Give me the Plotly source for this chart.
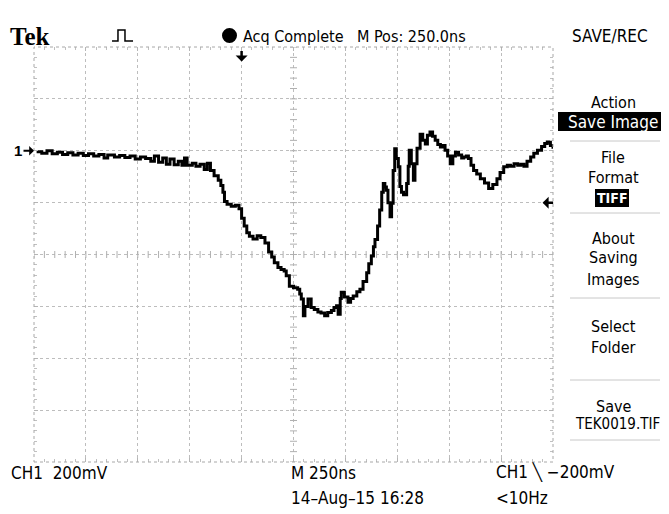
import plotly.graph_objects as go

# ---- waveform data (time in divisions 0..10, amplitude in divisions, center = 0) ----
t_div = [0.05,0.15,0.25,0.35,0.45,0.55,0.65,0.75,0.85,0.95,1.05,1.15,1.25,1.35,1.42,1.55,1.65,1.75,1.85,1.95,
         2.05,2.15,2.25,2.32,2.40,2.48,2.55,2.62,2.70,2.78,2.85,2.90,2.95,3.05,3.12,3.20,3.28,3.34,3.40,3.47,
         3.55,3.60,3.64,3.67,3.72,3.80,3.88,3.95,4.00,4.05,4.10,4.15,4.22,4.30,4.37,4.45,4.52,4.58,4.63,4.70,
         4.76,4.82,4.86,4.92,5.00,5.08,5.12,5.15,5.19,5.22,5.28,5.34,5.40,5.47,5.53,5.60,5.66,5.73,5.78,5.83,
         5.86,5.90,5.92,5.98,6.05,6.10,6.15,6.22,6.28,6.34,6.41,6.45,6.50,6.54,6.57,6.62,6.66,6.70,6.73,6.76,
         6.79,6.82,6.86,6.89,6.92,6.95,6.98,7.02,7.05,7.08,7.12,7.18,7.21,7.23,7.27,7.31,7.34,7.38,7.44,7.49,
         7.54,7.58,7.63,7.68,7.73,7.78,7.83,7.88,7.92,7.97,8.02,8.07,8.12,8.18,8.24,8.28,8.33,8.37,8.42,8.47,
         8.53,8.60,8.68,8.76,8.84,8.92,8.98,9.05,9.12,9.18,9.25,9.32,9.38,9.44,9.50,9.57,9.63,9.70,9.78,9.84,
         9.89,9.95,10.0]
v_div = [1.98,1.95,2.00,1.94,1.97,1.93,1.96,1.92,1.95,1.91,1.94,1.90,1.93,1.86,1.92,1.88,1.91,1.87,1.90,1.84,
         1.88,1.85,1.80,1.90,1.78,1.86,1.74,1.84,1.73,1.80,1.72,1.86,1.72,1.76,1.70,1.74,1.64,1.76,1.62,1.52,
         1.43,1.33,1.20,1.02,0.97,0.93,0.95,0.88,0.70,0.55,0.42,0.35,0.30,0.36,0.33,0.22,0.05,-0.05,-0.16,-0.25,
         -0.29,-0.32,-0.41,-0.61,-0.64,-0.67,-0.76,-0.86,-1.18,-1.00,-0.86,-1.02,-1.06,-1.11,-1.13,-1.18,-1.12,-1.08,-1.02,-0.99,
         -1.15,-0.85,-0.73,-0.82,-0.92,-0.85,-0.80,-0.72,-0.67,-0.52,-0.35,-0.18,-0.03,0.15,0.29,0.55,0.86,1.20,1.37,1.30,
         1.24,1.00,0.73,0.99,1.62,2.04,1.85,1.69,1.31,1.20,1.15,1.37,1.70,2.01,1.75,1.43,1.75,2.05,2.32,2.20,
         2.13,2.30,2.36,2.28,2.20,2.12,2.07,2.10,2.01,1.90,1.75,1.90,1.97,1.92,1.86,1.88,1.90,1.85,1.72,1.62,
         1.55,1.46,1.38,1.27,1.35,1.46,1.58,1.69,1.72,1.70,1.75,1.72,1.74,1.70,1.80,1.88,1.95,2.01,2.08,2.14,
         2.17,2.10,2.04]

ground_level_div = 2.0
trigger_level_div = 1.0
trigger_pos_div = 4.0

header_texts = ["Acq Complete", "M Pos: 250.0ns", "SAVE/REC"]
footer_texts = ["CH1  200mV", "M 250ns", "CH1 \u2572 \u2212200mV", "14\u2013Aug\u201315 16:28", "<10Hz"]
menu_texts = ["Action", "Save Image", "File", "Format", "TIFF", "About", "Saving", "Images",
              "Select", "Folder", "Save", "TEK0019.TIF"]

OFF = 8                      # page body margin
W, H = 669 - OFF, 514 - OFF  # figure size
L, R, T, B = 34, 553, 47, 462  # plot area in page pixels


def px(x):
    return (x - L) / (R - L)


def py(y):
    return (B - y) / (B - T)


fig = go.Figure()

# graticule minor ticks on centre lines
cx_x = [5.0] * 41
cx_y = [-4 + 0.2 * i for i in range(41)]
cy_x = [0.2 * i for i in range(51)]
cy_y = [0.0] * 51
fig.add_trace(go.Scatter(x=cx_x, y=cx_y, mode="markers", hoverinfo="skip",
                         marker=dict(symbol="line-ew", size=5, line=dict(color="#b0b0b0", width=1))))
fig.add_trace(go.Scatter(x=cy_x, y=cy_y, mode="markers", hoverinfo="skip",
                         marker=dict(symbol="line-ns", size=5, line=dict(color="#b0b0b0", width=1))))

fig.add_trace(go.Scatter(x=t_div, y=v_div, mode="lines", line=dict(color="black", width=3, shape="hv"),
                         hoverinfo="skip"))

axis_common = dict(showgrid=True, gridcolor="#bdbdbd", griddash="dot", gridwidth=1, zeroline=False,
                   showticklabels=False, ticks="inside", ticklen=4, tickcolor="#b5b5b5",
                   showline=False, mirror="allticks", fixedrange=True)
fig.update_xaxes(range=[0, 10], dtick=1, minor=dict(dtick=0.2, ticks="inside", ticklen=3, tickcolor="#c0c0c0"),
                 **axis_common)
fig.update_yaxes(range=[-4, 4], dtick=1, minor=dict(dtick=0.2, ticks="inside", ticklen=3, tickcolor="#c0c0c0"),
                 **axis_common)

shapes = []
# dotted border
shapes.append(dict(type="rect", xref="paper", yref="paper", x0=0, x1=1, y0=0, y1=1,
                   line=dict(color="#a8a8a8", width=1, dash="dot")))
# pulse glyph
pts = [(112, 41), (118, 41), (118, 30), (125, 30), (125, 41), (133, 41)]
path = "M " + " L ".join(f"{px(a):.4f},{py(b):.4f}" for a, b in pts)
shapes.append(dict(type="path", xref="paper", yref="paper", path=path, line=dict(color="black", width=1.5)))
# acquisition dot
shapes.append(dict(type="circle", xref="paper", yref="paper", x0=px(222), x1=px(237), y0=py(43), y1=py(28),
                   fillcolor="black", line=dict(color="black", width=0)))
# menu highlight boxes
shapes.append(dict(type="rect", xref="paper", yref="paper", x0=px(558), x1=px(667), y0=py(131), y1=py(112),
                   fillcolor="black", line=dict(width=0), layer="below"))
shapes.append(dict(type="rect", xref="paper", yref="paper", x0=px(595), x1=px(629), y0=py(207), y1=py(189),
                   fillcolor="black", line=dict(width=0), layer="below"))
# menu separators
for yy in [141, 213, 298, 380, 440]:
    shapes.append(dict(type="line", xref="paper", yref="paper", x0=px(570), x1=px(660), y0=py(yy), y1=py(yy),
                       line=dict(color="#c8c8c8", width=1)))
fig.update_layout(shapes=shapes)

ann = []
narrow = "Liberation Sans Narrow, DejaVu Sans Condensed, Liberation Sans, Arial"


def txt(x, y, s, size=15, font=narrow, color="black", xanchor="left", **kw):
    ann.append(dict(x=px(x), y=py(y), xref="paper", yref="paper", text=s, showarrow=False,
                    xanchor=xanchor, yanchor="middle", font=dict(size=size, family=font, color=color), **kw))


txt(8, 36, "<b>Tek</b>", size=25, font="Liberation Serif, DejaVu Serif")
txt(241, 36, header_texts[0], size=16)
txt(355, 36, header_texts[1], size=16)
txt(570, 36, header_texts[2], size=17)

txt(9, 473, footer_texts[0], size=17)
txt(289, 473, footer_texts[1], size=17)
txt(494, 473, footer_texts[2], size=17)
txt(289, 498, footer_texts[3], size=17)
txt(494, 498, footer_texts[4], size=17)

mx = 613
menu_y = [103, 122, 157, 177, 198, 238, 258, 279, 326, 347, 406, 424]
for s, yy in zip(menu_texts, menu_y):
    if s == "Save Image":
        txt(mx, yy, s, size=17, xanchor="center", color="white")
    elif s == "TIFF":
        txt(mx - 1, yy, "<b>" + s + "</b>", size=14, xanchor="center", color="white")
    elif s == "TEK0019.TIF":
        txt(617, yy, s, size=15, xanchor="center")
    else:
        txt(mx, yy, s, size=16, xanchor="center")

# markers: ground "1", trigger position, trigger level
ann.append(dict(x=0, y=ground_level_div, xref="x", yref="y", text="<b>1</b>", showarrow=True,
                arrowhead=1, arrowsize=0.8, arrowwidth=2, arrowcolor="black", ax=-16, ay=0,
                font=dict(size=15, family="Liberation Sans", color="black")))
ann.append(dict(x=trigger_pos_div, y=3.72, xref="x", yref="y", text="", showarrow=True,
                arrowhead=1, arrowsize=0.8, arrowwidth=2.5, arrowcolor="black", ax=0, ay=-12))
ann.append(dict(x=9.8, y=trigger_level_div, xref="x", yref="y", text="", showarrow=True,
                arrowhead=1, arrowsize=0.8, arrowwidth=2.5, arrowcolor="black", ax=12, ay=0))

fig.update_layout(annotations=ann, width=W, height=H,
                  margin=dict(l=L - OFF, r=(W + OFF) - R, t=T - OFF, b=(H + OFF) - B),
                  paper_bgcolor="white", plot_bgcolor="white", showlegend=False)

fig.write_html("out.html")
